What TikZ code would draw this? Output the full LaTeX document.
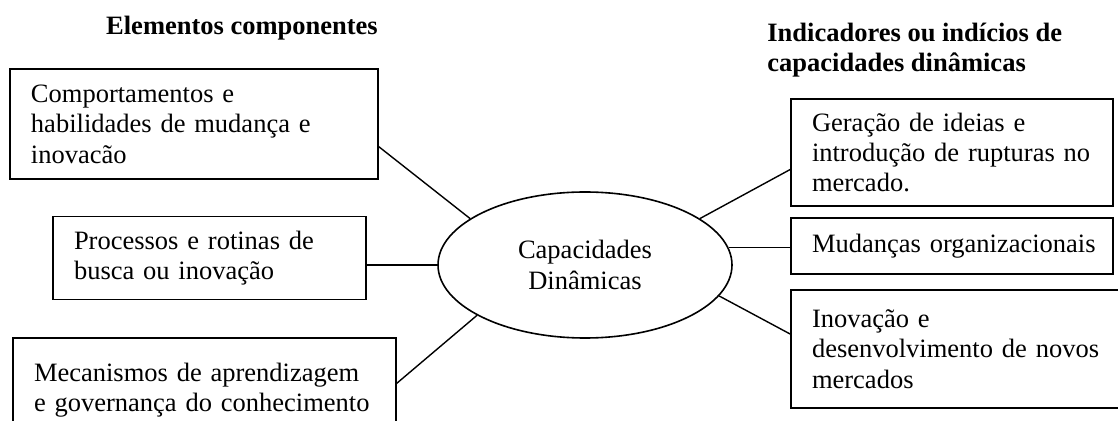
\documentclass[tikz,border=0pt]{standalone}
\usepackage{fontspec}
\setmainfont{Liberation Serif}
\usetikzlibrary{shapes.geometric}

\begin{document}
\begin{tikzpicture}[x=0.5pt, y=-0.5pt,
  every box/.style={draw, line width=0.8pt, align=left, inner xsep=10.5pt, inner ysep=0pt,
    font=\fontsize{13.25}{15.2}\selectfont},
  heading/.style={font=\fontsize{13.25}{15.2}\selectfont\bfseries, align=left, inner sep=0pt}]

\useasboundingbox (0,0) rectangle (1118,421);

% titles
\node [heading] (left-title) at (242,28) {Elementos componentes};
\node [heading, anchor=west] (right-title) at (767,50) {Indicadores ou indícios de\\capacidades dinâmicas};

% centre
\node [draw, ellipse, line width=0.8pt, minimum width=147pt, minimum height=73pt, inner sep=0pt,
  align=center, font=\fontsize{13.25}{15.2}\selectfont]
  (centre) at (585,265) {Capacidades\\Dinâmicas};

% components
\node [every box, text width=163pt, minimum height=55pt] (left-1) at (194,124)
  {Comportamentos e\\habilidades de mudança e\\inovacão};
\node [every box, text width=135.5pt, minimum height=41.5pt] (left-2) at (209.5,258)
  {Processos e rotinas de\\busca ou inovação};
\node [every box, text width=170.5pt, minimum height=52pt] (left-3) at (204.5,390)
  {Mecanismos de aprendizagem\\e governança do conhecimento};

% indicators
\node [every box, text width=140pt, minimum height=53.5pt] (right-1) at (952,152.5)
  {Geração de ideias e\\introdução de rupturas no\\mercado.};
\node [every box, text width=140pt, minimum height=28pt] (right-2) at (952,246)
  {\mbox{Mudanças organizacionais}};
\node [every box, text width=149pt, minimum height=59pt] (right-3) at (961,349)
  {Inovação e\\desenvolvimento de novos\\mercados};

% links
\foreach \i/\a/\b in {1/-7/158, 3/2/205}
  \draw [line width=0.7pt] (left-\i.\a) -- (centre.\b);
\draw [line width=0.7pt] (left-2.east |- centre.west) -- (centre.west);

\foreach \i/\a/\b in {1/186/22, 3/175/-13}
  \draw [line width=0.7pt] (right-\i.\a) -- (centre.\b);
\draw [line width=0.7pt] (centre.7) -- (centre.7 -| right-2.west);

\end{tikzpicture}
\end{document}
